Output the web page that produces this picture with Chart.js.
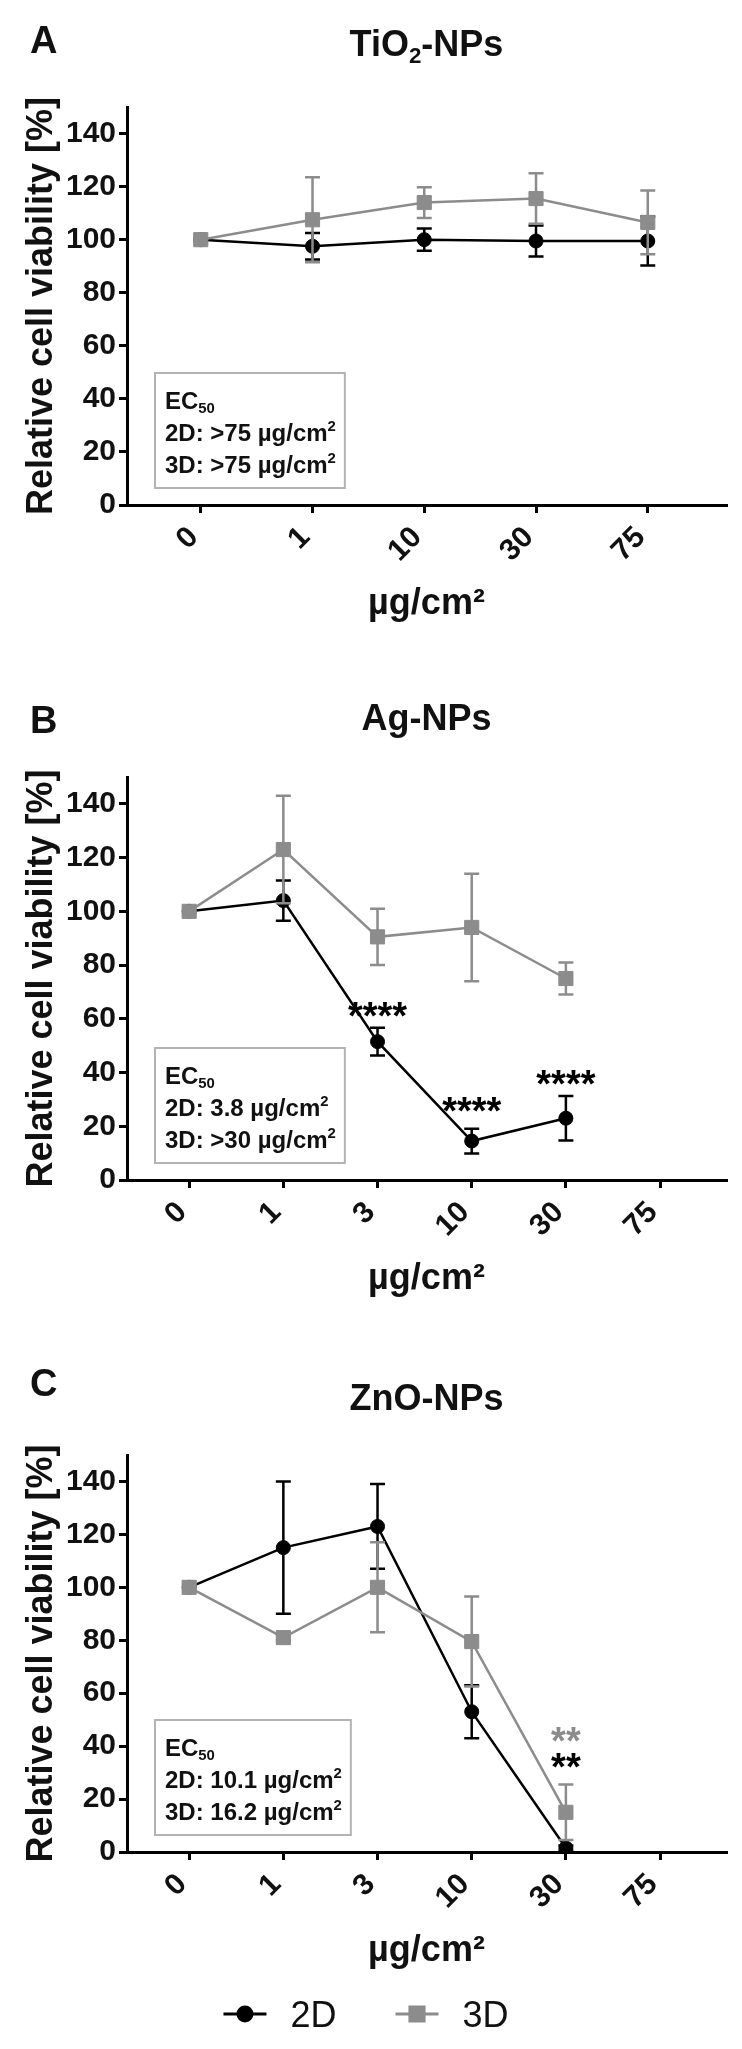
<!DOCTYPE html>
<html>
<head>
<meta charset="utf-8">
<script src="https://cdn.jsdelivr.net/npm/chart.js@4.4.0/dist/chart.umd.min.js"></script>
<style>
  html, body { margin: 0; padding: 0; background: #ffffff; }
  body { width: 742px; height: 2049px; position: relative; overflow: hidden; }
  .panel { position: absolute; left: 0; width: 742px; }
  canvas { display: block; }
</style>
</head>
<body>
<div class="panel" style="top:0px;height:650px"><canvas id="chartA" width="742" height="650"></canvas></div>
<div class="panel" style="top:650px;height:680px"><canvas id="chartB" width="742" height="680"></canvas></div>
<div class="panel" style="top:1330px;height:719px"><canvas id="chartC" width="742" height="719"></canvas></div>
<script>
// ---------------- DATA ----------------
const dosesA = ['0', '1', '10', '30', '75'];
const dosesBC = ['0', '1', '3', '10', '30', '75'];
const yTickValues = [0, 20, 40, 60, 80, 100, 120, 140];
const seriesNames = ['2D', '3D'];

// A: TiO2-NPs
const tio2_2D    = [100, 97.5, 100, 99.5, 99.5];
const tio2_2D_sd = [0, 5, 4.2, 5.8, 9.2];
const tio2_3D    = [100, 107.5, 114, 115.5, 106.5];
const tio2_3D_sd = [0, 16, 5.8, 9.5, 12];

// B: Ag-NPs
const ag_2D    = [100, 104, 51.5, 14.5, 23, null];
const ag_2D_sd = [0, 7.5, 5.2, 4.6, 8.3, null];
const ag_3D    = [100, 123, 90.5, 94, 75, null];
const ag_3D_sd = [0, 20, 10.5, 20, 6, null];
const ag_2D_sig  = ['', '', '****', '****', '****', ''];
const ag_2D_sigY = [null, null, 64, 28.6, 39, null];

// C: ZnO-NPs
const zno_2D    = [100, 115, 123, 53, 1.5, null];
const zno_2D_sd = [0, 25, 16, 10, 1, null];
const zno_3D    = [100, 81, 100, 79.5, 15, null];
const zno_3D_sd = [0, 1, 17, 17, 10.5, null];
const zno_2D_sig  = ['', '', '', '', '**', ''];
const zno_2D_sigY = [null, null, null, null, 35.4, null];
const zno_3D_sig  = ['', '', '', '', '**', ''];
const zno_3D_sigY = [null, null, null, null, 45.1, null];

// EC50 values (2D, 3D)
const ec50A = ['>75', '>75'];
const ec50B = ['3.8', '>30'];
const ec50C = ['10.1', '16.2'];

// ---------------- STYLE ----------------
const FONT = '"Liberation Sans", Arial, Helvetica, sans-serif';
const C2D = '#000000';
const C3D = '#8c8c8c';
const TXT = '#111111';
Chart.defaults.font.family = FONT;

function toXY(vals) {
  return vals.map((v, i) => ({ x: i, y: v })).filter(p => p.y !== null);
}

function richFont(size, weight) { return `${weight} ${size}px ${FONT}`; }
function richWidth(ctx, segs, size, weight) {
  let w = 0;
  segs.forEach(s => { ctx.font = richFont(s.s ? size * 0.62 : size, weight); w += ctx.measureText(s.t).width; });
  return w;
}
function drawRich(ctx, segs, x, baseline, size, weight, align) {
  const total = richWidth(ctx, segs, size, weight);
  let cx = align === 'center' ? x - total / 2 : x;
  ctx.textAlign = 'left';
  ctx.textBaseline = 'alphabetic';
  segs.forEach(s => {
    const sz = s.s ? size * 0.62 : size;
    ctx.font = richFont(sz, weight);
    const dy = s.s === 'sub' ? size * 0.2 : (s.s === 'sup' ? -size * 0.4 : 0);
    ctx.fillText(s.t, cx, baseline + dy);
    cx += ctx.measureText(s.t).width;
  });
  return total;
}

// error bars drawn just before each dataset
const errorBarPlugin = {
  id: 'errorBars',
  beforeDatasetDraw(chart, args) {
    const ds = chart.data.datasets[args.index];
    if (!ds.errors) return;
    const { ctx, scales: { x, y } } = chart;
    ctx.save();
    ctx.strokeStyle = ds.borderColor;
    ctx.lineWidth = 2.5;
    ds.data.forEach(p => {
      const e = ds.errors[p.x];
      if (!e) return;
      const px = x.getPixelForValue(p.x);
      const yt = y.getPixelForValue(p.y + e);
      const yb = y.getPixelForValue(p.y - e);
      ctx.beginPath();
      ctx.moveTo(px, yt); ctx.lineTo(px, yb);
      ctx.moveTo(px - 7.5, yt); ctx.lineTo(px + 7.5, yt);
      ctx.moveTo(px - 7.5, yb); ctx.lineTo(px + 7.5, yb);
      ctx.stroke();
    });
    ctx.restore();
  }
};

// significance asterisks
const sigPlugin = {
  id: 'sig',
  afterDatasetsDraw(chart) {
    const { ctx, scales: { x, y } } = chart;
    const size = 38;
    ctx.save();
    ctx.font = `bold ${size}px ${FONT}`;
    ctx.textAlign = 'center';
    ctx.textBaseline = 'alphabetic';
    chart.data.datasets.forEach(ds => {
      if (!ds.sig) return;
      ctx.fillStyle = ds.borderColor;
      ds.sig.forEach((s, i) => {
        if (!s) return;
        const px = x.getPixelForValue(i);
        const py = y.getPixelForValue(ds.sigY[i]);
        ctx.fillText(s, px, py + size * 0.56);
      });
    });
    ctx.restore();
  }
};

function makeDeco(cfg) {
  return {
    id: 'deco',
    beforeDatasetsDraw(chart) {
      const ctx = chart.ctx, a = chart.chartArea;
      const size = 24;
      const lines = [
        [{ t: 'EC' }, { t: '50', s: 'sub' }],
        [{ t: seriesNames[0] + ': ' + cfg.ec50[0] + ' \u00b5g/cm' }, { t: '2', s: 'sup' }],
        [{ t: seriesNames[1] + ': ' + cfg.ec50[1] + ' \u00b5g/cm' }, { t: '2', s: 'sup' }]
      ];
      const maxW = Math.max(...lines.map(l => richWidth(ctx, l, size, 'bold')));
      const bx = a.left + 28, by = a.bottom - 132, bw = 10 + maxW + 9, bh = 115;
      ctx.save();
      ctx.fillStyle = '#ffffff';
      ctx.fillRect(bx, by, bw, bh);
      ctx.strokeStyle = '#b3b3b3';
      ctx.lineWidth = 2;
      ctx.strokeRect(bx, by, bw, bh);
      ctx.fillStyle = TXT;
      const centers = [27, 59.5, 91.5];
      lines.forEach((l, i) => drawRich(ctx, l, bx + 10, by + centers[i] + size * 0.358, size, 'bold', 'left'));
      ctx.restore();
    },
    afterDraw(chart) {
      const ctx = chart.ctx, a = chart.chartArea;
      ctx.save();
      ctx.fillStyle = TXT;
      // panel letter
      ctx.font = `bold 38px ${FONT}`;
      ctx.textAlign = 'left';
      ctx.textBaseline = 'alphabetic';
      ctx.fillText(cfg.letter, 30, a.top + cfg.letterDy + 38 * 0.358);
      // title
      drawRich(ctx, cfg.title, (a.left + a.right) / 2, a.top + cfg.titleDy + 36 * 0.358, 36, 'bold', 'center');
      ctx.restore();
    }
  };
}

const legendPlugin = {
  id: 'figLegend',
  afterDraw(chart) {
    const ctx = chart.ctx;
    const cy = 684, size = 36, lineLen = 43, gapText = 24, gapItem = 59;
    ctx.save();
    ctx.font = `${size}px ${FONT}`;
    const dsets = chart.data.datasets.slice().sort((p, q) => seriesNames.indexOf(p.label) - seriesNames.indexOf(q.label));
    const widths = dsets.map(ds => ctx.measureText(ds.label).width);
    const total = widths.reduce((s, w) => s + lineLen + gapText + w, 0) + gapItem * (dsets.length - 1);
    let x = chart.width / 2 - 5 - total / 2;
    dsets.forEach((ds, i) => {
      ctx.strokeStyle = ds.borderColor;
      ctx.fillStyle = ds.borderColor;
      ctx.lineWidth = 3;
      ctx.beginPath(); ctx.moveTo(x, cy); ctx.lineTo(x + lineLen, cy); ctx.stroke();
      Chart.helpers.drawPoint(ctx, { pointStyle: ds.pointStyle, radius: ds.pointRadius, borderWidth: 1, rotation: 0 }, x + lineLen / 2, cy);
      ctx.fillStyle = TXT;
      ctx.font = `${size}px ${FONT}`;
      ctx.textAlign = 'left';
      ctx.textBaseline = 'alphabetic';
      ctx.fillText(ds.label, x + lineLen + gapText, cy + size * 0.358);
      x += lineLen + gapText + widths[i] + gapItem;
    });
    ctx.restore();
  }
};

function makeDataset(label, vals, errs, sig, sigY) {
  const is2D = label === '2D';
  const col = is2D ? C2D : C3D;
  return {
    label: label,
    data: toXY(vals),
    errors: errs,
    sig: sig || null,
    sigY: sigY || null,
    borderColor: col,
    backgroundColor: col,
    pointBackgroundColor: col,
    pointBorderColor: col,
    pointBorderWidth: 1,
    pointStyle: is2D ? 'circle' : 'rect',
    pointRadius: is2D ? 7 : 10,
    pointHoverRadius: is2D ? 7 : 10,
    borderWidth: 2.5,
    tension: 0,
    fill: false,
    order: is2D ? 1 : 0
  };
}

function makeChart(id, cfg) {
  const n = cfg.cats.length;
  const tickFont = { size: 30, weight: 'bold', family: FONT };
  const plugins = [errorBarPlugin, sigPlugin, makeDeco(cfg)];
  if (cfg.legend) plugins.push(legendPlugin);
  return new Chart(document.getElementById(id), {
    type: 'line',
    data: { datasets: cfg.datasets },
    plugins: plugins,
    options: {
      responsive: false,
      animation: false,
      devicePixelRatio: 1,
      events: [],
      layout: { padding: { top: cfg.padTop, right: 16, bottom: cfg.padBottom, left: 0 } },
      plugins: { legend: { display: false }, tooltip: { enabled: false }, title: { display: false } },
      scales: {
        x: {
          type: 'linear',
          min: -0.66,
          max: n - 1 + 0.7,
          afterBuildTicks: s => { s.ticks = cfg.cats.map((c, i) => ({ value: i })); },
          afterFit: s => { s.height = 130; },
          ticks: {
            autoSkip: false,
            minRotation: 45,
            maxRotation: 45,
            padding: 7,
            labelOffset: -7,
            color: TXT,
            font: tickFont,
            callback: v => cfg.cats[v]
          },
          grid: { display: true, drawOnChartArea: false, drawTicks: true, tickLength: 8, tickWidth: 3, tickColor: '#000', lineWidth: 3, color: '#000' },
          border: { display: true, color: '#000', width: 3 },
          title: { display: true, text: '\u00b5g/cm\u00b2', color: TXT, font: { size: 36, weight: 'bold', family: FONT }, padding: { top: 0, bottom: 9 } }
        },
        y: {
          type: 'linear',
          min: 0,
          max: 150,
          afterBuildTicks: s => { s.ticks = yTickValues.map(v => ({ value: v })); },
          afterFit: s => { s.width = 127; },
          ticks: { padding: 3, color: TXT, font: tickFont },
          grid: { display: true, drawOnChartArea: false, drawTicks: true, tickLength: 8, tickWidth: 3, tickColor: '#000', lineWidth: 3, color: '#000' },
          border: { display: true, color: '#000', width: 3 },
          title: { display: true, text: 'Relative cell viability [%]', color: TXT, font: { size: 36, weight: 'bold', family: FONT }, padding: { top: 20, bottom: 0 } }
        }
      }
    }
  });
}

makeChart('chartA', {
  cats: dosesA,
  letter: 'A', letterDy: -68, titleDy: -64,
  title: [{ t: 'TiO' }, { t: '2', s: 'sub' }, { t: '-NPs' }],
  ec50: ec50A,
  padTop: 107, padBottom: 15,
  datasets: [makeDataset('2D', tio2_2D, tio2_2D_sd), makeDataset('3D', tio2_3D, tio2_3D_sd)]
});

makeChart('chartB', {
  cats: dosesBC,
  letter: 'B', letterDy: -58, titleDy: -60,
  title: [{ t: 'Ag-NPs' }],
  ec50: ec50B,
  padTop: 127, padBottom: 20,
  datasets: [makeDataset('2D', ag_2D, ag_2D_sd, ag_2D_sig, ag_2D_sigY), makeDataset('3D', ag_3D, ag_3D_sd)]
});

makeChart('chartC', {
  cats: dosesBC,
  letter: 'C', letterDy: -73, titleDy: -58,
  title: [{ t: 'ZnO-NPs' }],
  ec50: ec50C,
  padTop: 125, padBottom: 67,
  legend: true,
  datasets: [makeDataset('2D', zno_2D, zno_2D_sd, zno_2D_sig, zno_2D_sigY), makeDataset('3D', zno_3D, zno_3D_sd, zno_3D_sig, zno_3D_sigY)]
});
</script>
</body>
</html>
